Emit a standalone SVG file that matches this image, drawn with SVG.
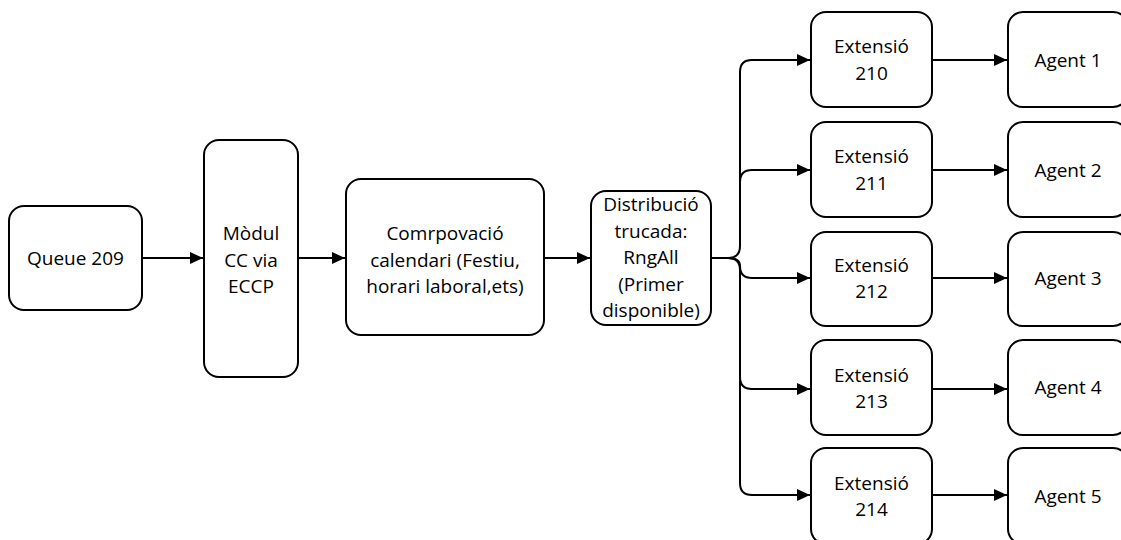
<svg xmlns="http://www.w3.org/2000/svg" width="1121" height="540" viewBox="0 0 1121 540">
<style>
.box{fill:#fff;stroke:#000;stroke-width:2}
.t{font-family:"Open Sans","Liberation Sans",sans-serif;font-size:19px;fill:#000;text-anchor:middle}
.c{fill:none;stroke:#000;stroke-width:2}
</style>
<defs>
<marker id="ah" markerUnits="userSpaceOnUse" markerWidth="14" markerHeight="14" refX="13" refY="6" orient="auto">
<path d="M0,0 L13,6 L0,12 z" fill="#000"/>
</marker>
</defs>
<rect width="1121" height="540" fill="#fff"/>
<g id="connectors">
<path class="c" d="M142,258 H203" marker-end="url(#ah)"/>
<path class="c" d="M298,258 H345" marker-end="url(#ah)"/>
<path class="c" d="M544,258 H590" marker-end="url(#ah)"/>
<path class="c" d="M711,258 H728 Q740,258 740,246 V72 Q740,60 752,60 H810" marker-end="url(#ah)"/>
<path class="c" d="M740,182 Q740,170 752,170 H810" marker-end="url(#ah)"/>
<path class="c" d="M711,258 H728 Q740,258 740,266 Q740,278 752,278 H810" marker-end="url(#ah)"/>
<path class="c" d="M711,258 H728 Q740,258 740,270 V377 Q740,389 752,389 H810" marker-end="url(#ah)"/>
<path class="c" d="M740,377 V483 Q740,495 752,495 H810" marker-end="url(#ah)"/>
<path class="c" d="M932,60 H1007" marker-end="url(#ah)"/>
<path class="c" d="M932,170 H1007" marker-end="url(#ah)"/>
<path class="c" d="M932,278 H1007" marker-end="url(#ah)"/>
<path class="c" d="M932,389 H1007" marker-end="url(#ah)"/>
<path class="c" d="M932,495 H1007" marker-end="url(#ah)"/>
</g>
<g id="queue209"><rect class="box" x="9" y="206" width="133" height="104" rx="15"/><text class="t" x="75.5" y="265">Queue 209</text></g>
<g id="modul"><rect class="box" x="204" y="140" width="94" height="237" rx="15"/><text class="t" x="251" y="240">Mòdul</text><text class="t" x="251" y="267">CC via</text><text class="t" x="251" y="293">ECCP</text></g>
<g id="comprovacio"><rect class="box" x="346" y="179" width="198" height="156" rx="15"/><text class="t" x="445" y="240">Comrpovació</text><text class="t" x="445" y="267">calendari (Festiu,</text><text class="t" x="445" y="293">horari laboral,ets)</text></g>
<g id="distribucio"><rect class="box" x="591" y="191" width="120" height="134" rx="15"/><text class="t" x="651" y="211">Distribució</text><text class="t" x="651" y="238">trucada:</text><text class="t" x="651" y="264">RngAll</text><text class="t" x="651" y="291">(Primer</text><text class="t" x="651" y="317">disponible)</text></g>
<g id="ext210"><rect class="box" x="811" y="12" width="121" height="95" rx="15"/><text class="t" x="871.5" y="53">Extensió</text><text class="t" x="871.5" y="80">210</text></g>
<g id="ext211"><rect class="box" x="811" y="122" width="121" height="95" rx="15"/><text class="t" x="871.5" y="163">Extensió</text><text class="t" x="871.5" y="190">211</text></g>
<g id="ext212"><rect class="box" x="811" y="232" width="121" height="94" rx="15"/><text class="t" x="871.5" y="272">Extensió</text><text class="t" x="871.5" y="298">212</text></g>
<g id="ext213"><rect class="box" x="811" y="340" width="121" height="95" rx="15"/><text class="t" x="871.5" y="382">Extensió</text><text class="t" x="871.5" y="408">213</text></g>
<g id="ext214"><rect class="box" x="811" y="448" width="121" height="96" rx="15"/><text class="t" x="871.5" y="490">Extensió</text><text class="t" x="871.5" y="516">214</text></g>
<g id="agent1"><rect class="box" x="1008" y="12" width="120" height="95" rx="15"/><text class="t" x="1068" y="67">Agent 1</text></g>
<g id="agent2"><rect class="box" x="1008" y="122" width="120" height="95" rx="15"/><text class="t" x="1068" y="177">Agent 2</text></g>
<g id="agent3"><rect class="box" x="1008" y="232" width="120" height="94" rx="15"/><text class="t" x="1068" y="285">Agent 3</text></g>
<g id="agent4"><rect class="box" x="1008" y="340" width="120" height="95" rx="15"/><text class="t" x="1068" y="394">Agent 4</text></g>
<g id="agent5"><rect class="box" x="1008" y="448" width="120" height="96" rx="15"/><text class="t" x="1068" y="503">Agent 5</text></g>
</svg>
